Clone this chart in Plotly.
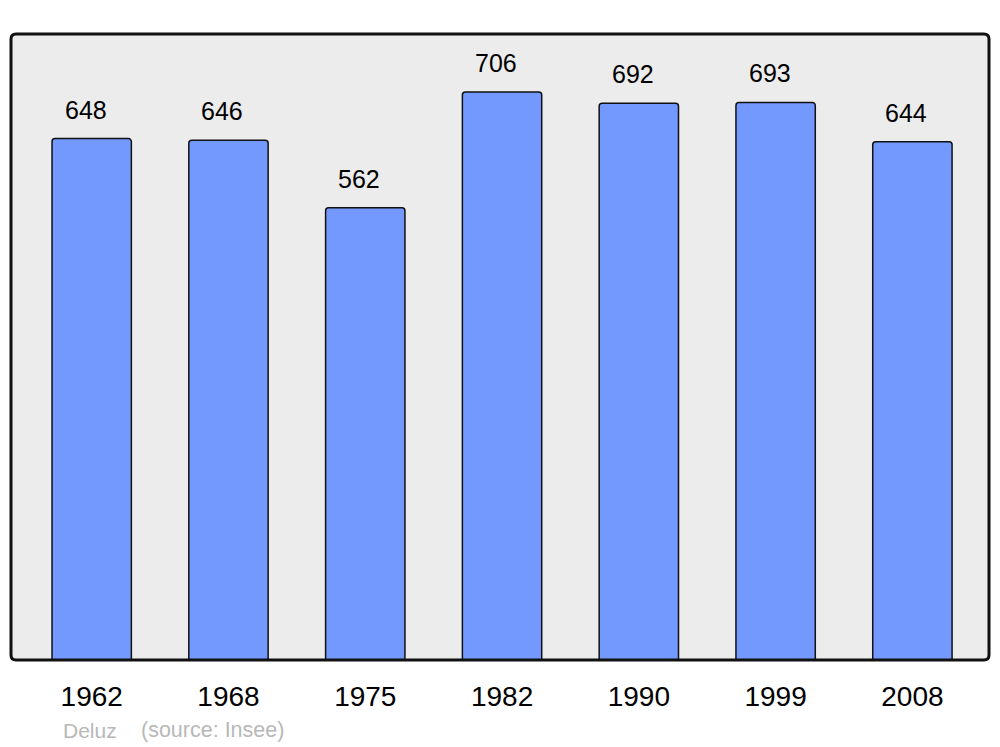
import plotly.graph_objects as go

years = ["1962", "1968", "1975", "1982", "1990", "1999", "2008"]
population = [648, 646, 562, 706, 692, 693, 644]

W, H = 992, 739  # page body has an 8px margin
ML, MR, MT, MB = 3, 11, 26, 87
pw, ph = W - ML - MR, H - MT - MB

fig = go.Figure()
fig.add_trace(go.Bar(
    x=years, y=population,
    marker=dict(color="#7399ff", line=dict(color="#111111", width=1.5), cornerradius=3),
    width=0.58,
    hoverinfo="skip",
))
for i, v in enumerate(population):
    fig.add_annotation(x=i, y=v, xref="x", yref="y", text=str(v), showarrow=False,
                       yanchor="bottom", yshift=13, xshift=-6,
                       font=dict(family="Liberation Sans", size=25, color="#000000"))

rx, ry = 5 / pw, 5 / ph
path = (f"M {rx},0 L {1-rx},0 Q 1,0 1,{ry} L 1,{1-ry} Q 1,1 {1-rx},1 "
        f"L {rx},1 Q 0,1 0,{1-ry} L 0,{ry} Q 0,0 {rx},0 Z")
fig.add_shape(type="path", xref="paper", yref="paper", path=path,
              line=dict(color="#111111", width=3), fillcolor="rgba(0,0,0,0)", layer="above")

fig.add_annotation(xref="paper", yref="paper", x=(61 - 8 - ML) / pw, y=-(730 - 660) / ph,
                   xanchor="left", yanchor="middle", text="Deluz", showarrow=False,
                   font=dict(family="Liberation Sans", size=21, color="#b8b8b8"))
fig.add_annotation(xref="paper", yref="paper", x=(139 - 8 - ML) / pw, y=-(730 - 660) / ph,
                   xanchor="left", yanchor="middle", text="(source: Insee)", showarrow=False,
                   font=dict(family="Liberation Sans", size=21.5, color="#b8b8b8"))

fig.update_layout(
    width=W, height=H,
    margin=dict(l=ML, r=MR, t=MT, b=MB),
    paper_bgcolor="white", plot_bgcolor="#ececec",
    showlegend=False,
    xaxis=dict(type="category", range=[-0.59, 6.56], showgrid=False, zeroline=False,
               ticks="outside", ticklen=11, tickcolor="rgba(0,0,0,0)",
               tickfont=dict(family="Liberation Sans", size=28, color="#000000")),
    yaxis=dict(range=[0, 778], showgrid=False, zeroline=False, showticklabels=False, ticks=""),
)
fig.write_html("out.html")
